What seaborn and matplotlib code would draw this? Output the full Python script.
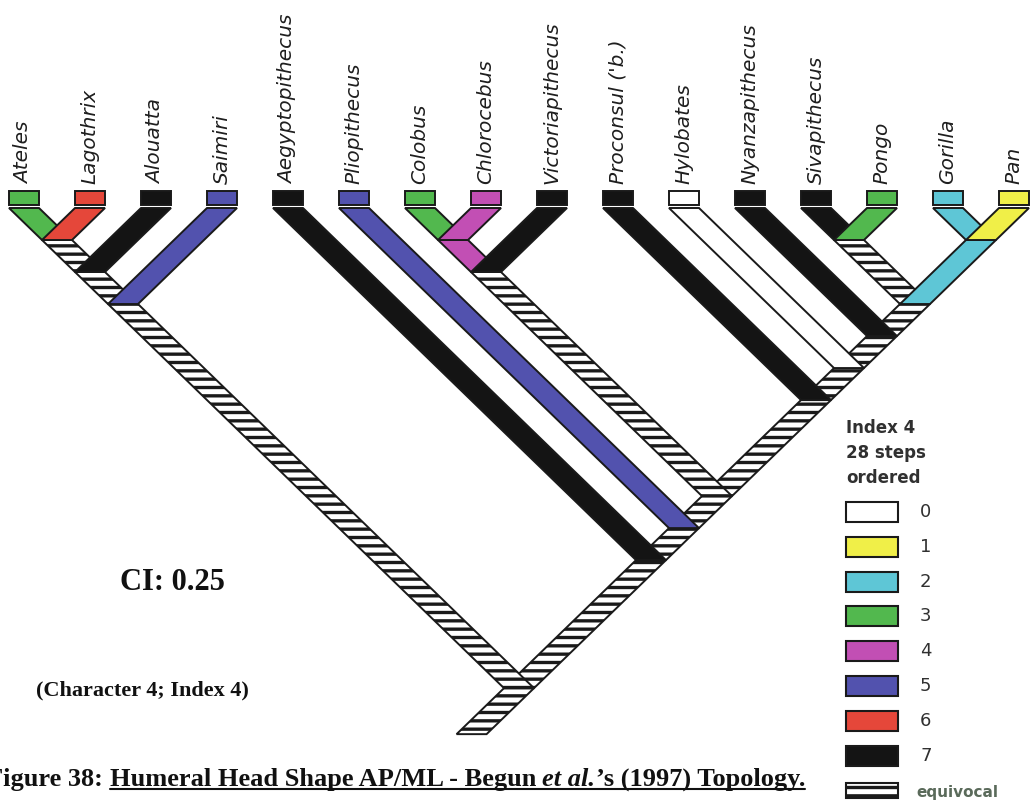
import matplotlib
matplotlib.use("Agg")
import matplotlib.pyplot as plt
import seaborn as sns
from matplotlib.patches import Polygon, Rectangle

# --- data -----------------------------------------------------------------
taxa = ["Ateles", "Lagothrix", "Alouatta", "Saimiri", "Aegyptopithecus",
        "Pliopithecus", "Colobus", "Chlorocebus", "Victoriapithecus",
        "Proconsul ('b.)", "Hylobates", "Nyanzapithecus", "Sivapithecus",
        "Pongo", "Gorilla", "Pan"]
leaf_states = [3, 6, 7, 5, 7, 5, 3, 4, 7, 7, 0, 7, 7, 3, 2, 1]

# internal clades as (first leaf, last leaf) spans and their reconstructed state
clade_spans = [(0, 1), (0, 2), (0, 3), (6, 7), (6, 8), (12, 13), (14, 15),
               (12, 15), (11, 15), (10, 15), (9, 15), (6, 15), (5, 15),
               (4, 15), (0, 15)]
clade_states = ["eq", "eq", "eq", 4, "eq", "eq", 2, "eq", "eq", "eq", "eq",
                "eq", "eq", "eq", "eq"]

legend_states = [0, 1, 2, 3, 4, 5, 6, 7, "eq"]
legend_labels = ["0", "1", "2", "3", "4", "5", "6", "7", "equivocal"]
state_colors = {0: "#ffffff", 1: "#f0ef48", 2: "#5ec6d6", 3: "#52b84e",
                4: "#c24fb4", 5: "#5252ae", 6: "#e5473a", 7: "#141414",
                "eq": "#ffffff"}

# --- style ----------------------------------------------------------------
sns.set_theme(style="white")
plt.rcParams["hatch.linewidth"] = 2.4
plt.rcParams["hatch.color"] = "#222222"

W, H = 1036, 807
fig = plt.figure(figsize=(W / 100, H / 100), dpi=100)
ax = fig.add_axes([0, 0, 1, 1])
ax.set_xlim(0, W)
ax.set_ylim(H, 0)
ax.axis("off")

x0, dx = 24, 66          # leaf spacing
y_top = 208              # top of branches
slope = 0.97
half = 15                # half branch width
ink = "#1a1a1a"


def leaf_x(i):
    return x0 + dx * i


def node_xy(span):
    a, b = span
    xa, xb = leaf_x(a), leaf_x(b)
    return (xa + xb) / 2, y_top + slope * (xb - xa) / 2


def band(ax, p_child, p_parent, state, z):
    (cx, cy), (px, py) = p_child, p_parent
    pts = [(cx - half, cy), (cx + half, cy), (px + half, py), (px - half, py)]
    hatch = "--" if state == "eq" else None
    ax.add_patch(Polygon(pts, closed=True, facecolor=state_colors[state],
                         edgecolor=ink, lw=1.4, hatch=hatch, zorder=z))


nodes = [((i, i), s) for i, s in enumerate(leaf_states)] + list(zip(clade_spans, clade_states))


def parent_of(span):
    cands = [sp for sp, _ in nodes if sp != span and sp[0] <= span[0] and sp[1] >= span[1]]
    return min(cands, key=lambda sp: sp[1] - sp[0]) if cands else None


# draw larger clades first so tips sit on top
for span, st in sorted(nodes, key=lambda n: -(n[0][1] - n[0][0])):
    par = parent_of(span)
    if par is None:
        rx, ry = node_xy(span)
        band(ax, (rx, ry), (rx - 46 / slope, ry + 46), st, 2)
        continue
    band(ax, node_xy(span), node_xy(par), st, 3 + (15 - (span[1] - span[0])) * 0.01)

# leaf boxes and names
for i, (name, st) in enumerate(zip(taxa, leaf_states)):
    x = leaf_x(i)
    ax.add_patch(Rectangle((x - half, 191), 2 * half, 14, facecolor=state_colors[st],
                           edgecolor=ink, lw=1.4, zorder=5))
    ax.text(x, 184, name, rotation=90, ha="center", va="bottom", fontsize=14.5,
            style="italic", color="#1e1e1e", family="DejaVu Sans")

# legend
lx = 846
for yy, s in zip([428, 453, 478], ["Index 4", "28 steps", "ordered"]):
    ax.text(lx, yy, s, fontsize=12, va="center", color="#303030", fontweight="bold")
for k, (st, lab) in enumerate(zip(legend_states, legend_labels)):
    yc = 512 + 34.8 * k
    hh = 20 if st != "eq" else 15
    ax.add_patch(Rectangle((lx, yc - hh / 2), 52, hh, facecolor=state_colors[st],
                           edgecolor=ink, lw=1.5, hatch="--" if st == "eq" else None,
                           zorder=5))
    if st == "eq":
        ax.text(lx + 70, yc + 2, lab, fontsize=11, va="center", color="#5a6a5a",
                fontweight="bold")
    else:
        ax.text(lx + 74, yc, lab, fontsize=13, va="center", color="#303030")

# annotations
serif = "Liberation Serif"
ax.text(120, 582, "CI: 0.25", fontsize=22, fontweight="bold", family=serif,
        va="center", color="#111111")
ax.text(36, 690, "(Character 4; Index 4)", fontsize=16, fontweight="bold",
        family=serif, va="center", color="#111111")

# caption, built from pieces so the underline and italics line up
pieces = [("Figure 38: ", "normal", False),
          ("Humeral Head Shape AP/ML - Begun ", "normal", True),
          ("et al.", "italic", True),
          ("\u2019s (1997) Topology.", "normal", True)]
fig.canvas.draw()
renderer = fig.canvas.get_renderer()
inv = ax.transData.inverted()
xc, base = -13, 786
ul_start = None
for txt, sty, ul in pieces:
    t = ax.text(xc, base, txt, fontsize=19, fontweight="bold", family=serif,
                style=sty, va="baseline", color="#111111")
    bb = t.get_window_extent(renderer)
    x_end = inv.transform((bb.x1, bb.y1))[0]
    if ul and ul_start is None:
        ul_start = xc
    xc = x_end
ax.plot([ul_start, xc], [base + 3, base + 3], color="#111111", lw=1.5)

fig.savefig("out.png", dpi=100)
